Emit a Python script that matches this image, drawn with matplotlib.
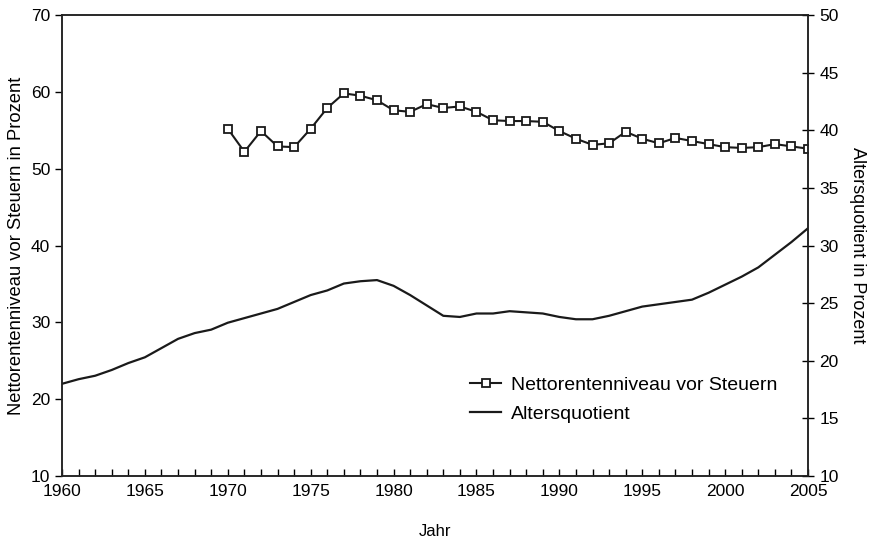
import numpy as np
import matplotlib.pyplot as plt
from matplotlib.ticker import MultipleLocator

plt.rcParams['font.family'] = ['Liberation Sans', 'DejaVu Sans']

# Nettorentenniveau vor Steuern (left axis), 1970-2005
jahre_netto = list(range(1970, 2006))
netto = [55.2, 52.2, 54.9, 52.9, 52.8, 55.2, 57.9, 59.8, 59.5, 58.9,
         57.6, 57.4, 58.4, 57.9, 58.1, 57.4, 56.3, 56.2, 56.2, 56.1,
         54.9, 53.9, 53.1, 53.3, 54.8, 53.9, 53.3, 54.0, 53.6, 53.2,
         52.8, 52.7, 52.8, 53.2, 52.9, 52.6]

# Altersquotient (right axis), 1960-2005
jahre_alter = list(range(1960, 2006))
alter = [18.0, 18.4, 18.7, 19.2, 19.8, 20.3, 21.1, 21.9, 22.4, 22.7,
         23.3, 23.7, 24.1, 24.5, 25.1, 25.7, 26.1, 26.7, 26.9, 27.0,
         26.5, 25.7, 24.8, 23.9, 23.8, 24.1, 24.1, 24.3, 24.2, 24.1,
         23.8, 23.6, 23.6, 23.9, 24.3, 24.7, 24.9, 25.1, 25.3, 25.9,
         26.6, 27.3, 28.1, 29.2, 30.3, 31.5]

fig = plt.figure(figsize=(8.71, 5.44), dpi=100)
ax = fig.add_axes([0.0712, 0.125, 0.8565, 0.8474])
ax2 = ax.twinx()

l1, = ax.plot(jahre_netto, netto, color='#1a1a1a', lw=1.5, marker='s',
              markersize=6, markerfacecolor='white', markeredgecolor='#1a1a1a',
              markeredgewidth=1.3, label='Nettorentenniveau vor Steuern')
l2, = ax2.plot(jahre_alter, alter, color='#1a1a1a', lw=1.6, label='Altersquotient')

ax.set_xlim(1960, 2005)
ax.set_ylim(10, 70)
ax2.set_ylim(10, 50)
ax.set_xticks(range(1960, 2006, 5))
ax.xaxis.set_minor_locator(MultipleLocator(1))
ax.set_yticks(range(10, 71, 10))
ax2.set_yticks(range(10, 51, 5))

ax.tick_params(axis='x', which='both', direction='in', length=5, width=1, labelsize=12.5, pad=6)
ax.tick_params(axis='y', direction='out', length=5, width=1, labelsize=12.5)
ax2.tick_params(axis='y', direction='inout', length=9, width=1, labelsize=12.5)

for a in (ax, ax2):
    for s in a.spines.values():
        s.set_linewidth(1.1)
        s.set_color('#222222')

ax.set_xlabel('Jahr', fontsize=12, labelpad=18)
ax.set_ylabel('Nettorentenniveau vor Steuern in Prozent', fontsize=13.2, labelpad=4)
ax2.set_ylabel('Altersquotient in Prozent', fontsize=13, rotation=-90, labelpad=20)

fig.legend(handles=[l1, l2], loc='upper left', bbox_to_anchor=(0.5396, 0.309),
           frameon=False, fontsize=14, handlelength=1.6, handletextpad=0.5,
           labelspacing=0.6, borderpad=0, borderaxespad=0)

fig.savefig('out.png', dpi=100)
